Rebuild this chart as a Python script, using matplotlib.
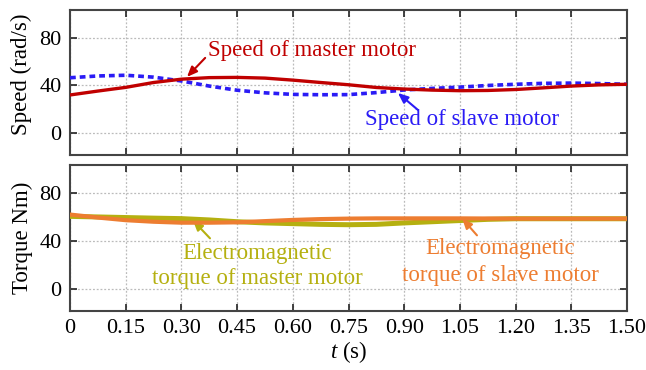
import matplotlib
matplotlib.use("Agg")
import matplotlib.pyplot as plt
import numpy as np

plt.rcParams['font.family'] = ['Liberation Serif', 'DejaVu Serif']
plt.rcParams['mathtext.fontset'] = 'custom'
plt.rcParams['mathtext.rm'] = 'Liberation Serif'
plt.rcParams['mathtext.it'] = 'Liberation Serif:italic'

# ---- data ----
t = [0, 0.075, 0.15, 0.225, 0.30, 0.375, 0.45, 0.525, 0.60, 0.675, 0.75,
     0.825, 0.90, 0.975, 1.05, 1.125, 1.20, 1.275, 1.35, 1.425, 1.50]
speed_master = [32, 35.3, 38.4, 42.5, 45.3, 46.6, 46.8, 46.2, 44.5, 42.5, 40.6,
                38.3, 37.0, 36.1, 35.6, 35.8, 36.6, 38.0, 39.5, 40.5, 41.0]
speed_slave = [46.5, 48.0, 48.6, 47.0, 43.8, 39.5, 36.0, 33.8, 32.5, 32.2, 32.3,
               34.0, 36.2, 37.5, 38.6, 40.0, 41.0, 41.8, 42.0, 41.6, 41.0]
torque_master = [60.5, 60.0, 59.5, 59.0, 58.6, 57.5, 56.0, 55.0, 54.4, 53.8, 53.5,
                 53.8, 55.0, 56.0, 57.0, 58.0, 58.5, 58.5, 58.5, 58.5, 58.5]
torque_slave = [62.0, 59.5, 57.3, 56.0, 55.2, 55.2, 55.5, 56.5, 57.5, 58.2, 58.6,
                58.8, 58.8, 58.8, 58.8, 58.7, 58.6, 58.6, 58.6, 58.6, 58.6]
xticks = [0, 0.15, 0.30, 0.45, 0.60, 0.75, 0.90, 1.05, 1.20, 1.35, 1.50]
xticklabels = ['0', '0.15', '0.30', '0.45', '0.60', '0.75', '0.90', '1.05', '1.20', '1.35', '1.50']
yticks = [0, 40, 80]

c_red = '#C00000'
c_blue = '#2A1BF5'
c_olive = '#B5B010'
c_orange = '#ED7D31'

W, H = 646, 370
fig = plt.figure(figsize=(W / 100, H / 100), dpi=100)

def px_axes(l, r, top, bot):
    return fig.add_axes([l / W, 1 - bot / H, (r - l) / W, (bot - top) / H])

ax1 = px_axes(70, 627, 10, 155)
ax2 = px_axes(70, 627, 165, 310.7)

for ax in (ax1, ax2):
    ax.set_xlim(0, 1.5)
    ax.set_ylim(-18.5, 103.5)
    ax.set_xticks(xticks)
    ax.set_yticks(yticks)
    ax.grid(True, color='#BBBBBB', linestyle=(0, (1.5, 1.5)), linewidth=0.9)
    ax.tick_params(direction='in', top=True, right=True, length=5, width=1.2,
                   labelsize=16, pad=6, colors='#222222', labelcolor='black')
    for s in ax.spines.values():
        s.set_color('#444444')
        s.set_linewidth(1.5)

ax1.set_xticklabels([])
ax2.set_xticklabels(xticklabels)

ax1.plot(t, speed_slave, color=c_blue, lw=2.6, linestyle=(0, (1.6, 1.1)), zorder=3)
ax1.plot(t, speed_master, color=c_red, lw=2.4, zorder=4)

ax2.plot(t, torque_master, color=c_olive, lw=3.6, zorder=3)
ax2.plot(t, torque_slave, color=c_orange, lw=3.0, zorder=4)

fs = 16.5
arr = dict(arrowstyle='-|>,head_length=0.6,head_width=0.25', lw=1.5,
           mutation_scale=10, shrinkA=0, shrinkB=0)

ax1.text(0.652, 64.8, 'Speed of master motor', color=c_red, fontsize=fs,
         ha='center', va='baseline')
ax1.annotate('', xy=(0.315, 47.2), xytext=(0.364, 63.2),
             arrowprops=dict(arr, color=c_red))
ax1.text(1.057, 6.7, 'Speed of slave motor', color=c_blue, fontsize=fs,
         ha='center', va='baseline')
ax1.annotate('', xy=(0.883, 33.7), xytext=(0.937, 19.4),
             arrowprops=dict(arr, color=c_blue))

ax2.text(0.5036, 25.1, 'Electromagnetic', color=c_olive, fontsize=fs,
         ha='center', va='baseline')
ax2.text(0.5036, 4.2, 'torque of master motor', color=c_olive, fontsize=fs,
         ha='center', va='baseline')
ax2.annotate('', xy=(0.331, 57.2), xytext=(0.377, 42.1),
             arrowprops=dict(arr, color=c_olive))
ax2.text(1.158, 29.3, 'Electromagnetic', color=c_orange, fontsize=fs,
         ha='center', va='baseline')
ax2.text(1.158, 6.4, 'torque of slave motor', color=c_orange, fontsize=fs,
         ha='center', va='baseline')
ax2.annotate('', xy=(1.056, 58.8), xytext=(1.096, 44.6),
             arrowprops=dict(arr, color=c_orange))

fig.text(21 / W, 1 - 74 / H, 'Speed (rad/s)', rotation=90, fontsize=fs,
         ha='center', va='center')
fig.text(22 / W, 1 - 237.5 / H, 'Torque Nm)', rotation=90, fontsize=fs,
         ha='center', va='center')
fig.text(348.5 / W, 1 - 352 / H, '$t$ (s)', fontsize=fs, ha='center', va='center')

fig.savefig('out.png', dpi=100)
